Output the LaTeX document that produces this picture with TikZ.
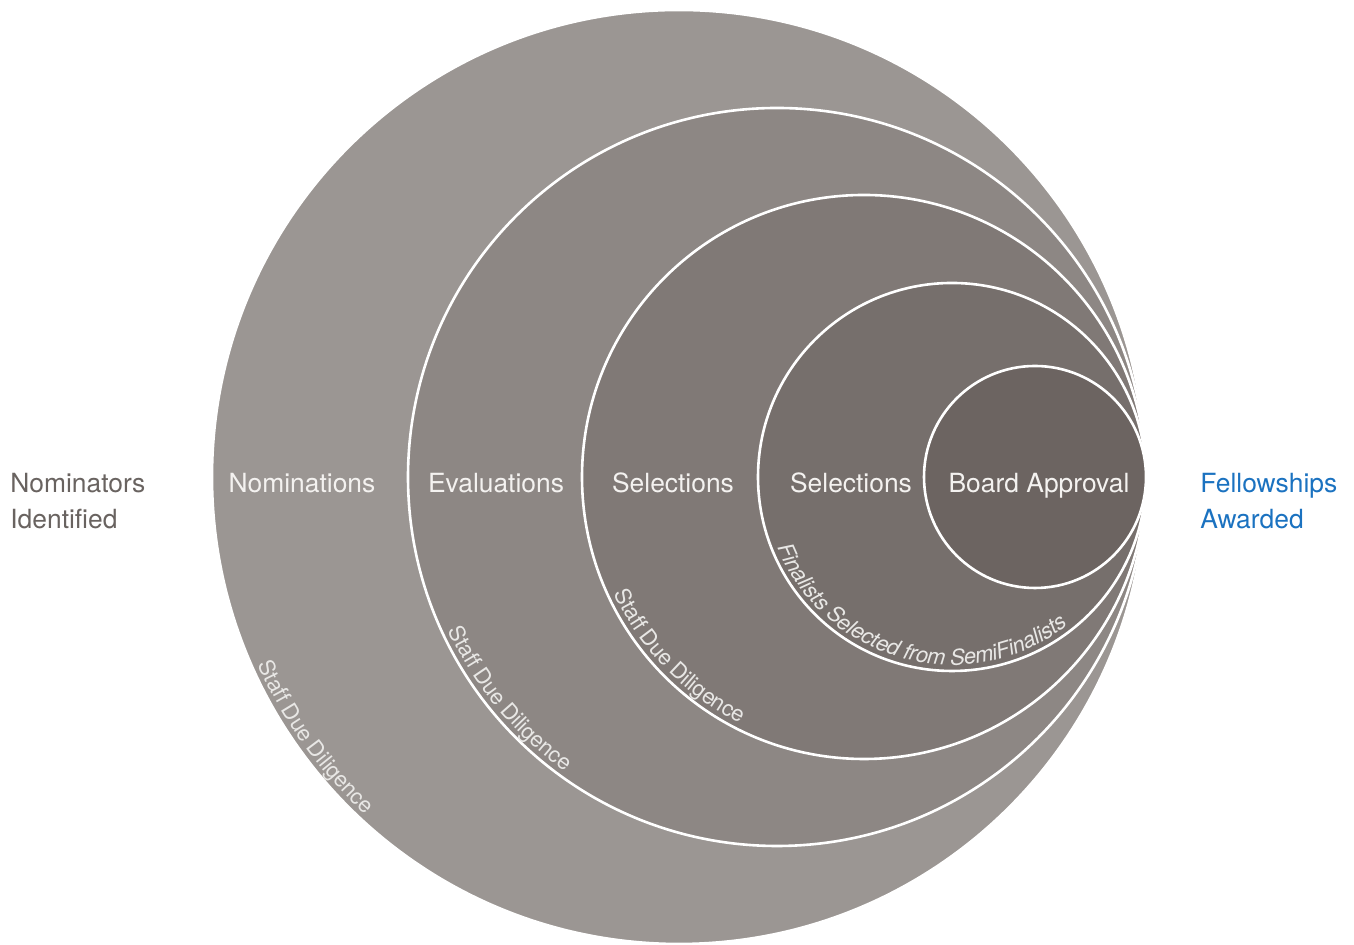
\documentclass[tikz,border=0pt]{standalone}
\usepackage{fontspec}
\setmainfont{TeX Gyre Heros}
\usetikzlibrary{positioning}
\usetikzlibrary{decorations.text}

\definecolor{ringA}{RGB}{155,150,147}
\definecolor{ringB}{RGB}{141,135,132}
\definecolor{ringC}{RGB}{128,121,118}
\definecolor{ringD}{RGB}{118,111,108}
\definecolor{ringE}{RGB}{108,100,97}
\definecolor{labelgrey}{RGB}{105,99,96}
\definecolor{awardblue}{RGB}{27,114,192}
\definecolor{softwhite}{RGB}{244,242,240}

\newcommand\ringtextfont{\fontsize{11}{13}\selectfont}

\tikzset{
  ring/.style={circle, draw=white, line width=1.3pt, inner sep=0pt},
  stage/.style={anchor=base, text=softwhite, font=\fontsize{13.2}{18}\selectfont, inner sep=0pt},
  side/.style={align=left, anchor=base west, font=\fontsize{13.2}{18}\selectfont, inner sep=0pt},
  arclabel/.style={decorate, decoration={text along path, raise=3pt, text color=softwhite!90!gray}}
}

\begin{document}
\begin{tikzpicture}[x=0.5pt,y=0.5pt]
  \useasboundingbox (0,0) rectangle (1354,945);

  % nested stages, all touching at the right
  \node[ring, fill=ringA, minimum size=467pt] (nom) at (679,468) {};
  \node[ring, fill=ringB, minimum size=369pt] (eva) at (777,468) {};
  \node[ring, fill=ringC, minimum size=282pt] (sel) at (864,468) {};
  \node[ring, fill=ringD, minimum size=194pt] (fin) at (952,468) {};
  \node[ring, fill=ringE, minimum size=111pt] (brd) at (1035,468) {};

  \node[stage] (nomlbl) at (302,452) {Nominations};
  \node[stage] (evalbl) at (496,452) {Evaluations};
  \node[stage] (sellbl) at (673,452) {Selections};
  \node[stage] (finlbl) at (851,452) {Selections};
  \node[stage] (brdlbl) at (1039,452) {Board Approval};

  \node[side, text=labelgrey] (start) at (10,416) {Nominators\\Identified};
  \node[side, text=awardblue] (goal) at (1200,416) {Fellowships\\Awarded};

  % text following the rims
  \path[arclabel, decoration={text={|\ringtextfont|Staff Due Diligence}}]
    ([shift={(204:467)}]nom.center) arc[start angle=204, end angle=262, radius=467];
  \path[arclabel, decoration={text={|\ringtextfont|Staff Due Diligence}}]
    ([shift={(205:369)}]eva.center) arc[start angle=205, end angle=268, radius=369];
  \path[arclabel, decoration={text={|\ringtextfont|Staff Due Diligence}}]
    ([shift={(205:282)}]sel.center) arc[start angle=205, end angle=275, radius=282];
  \path[arclabel, decoration={text={|\ringtextfont\itshape|Finalists Selected from SemiFinalists}}]
    ([shift={(202:194)}]fin.center) arc[start angle=202, end angle=340, radius=194];
\end{tikzpicture}
\end{document}
